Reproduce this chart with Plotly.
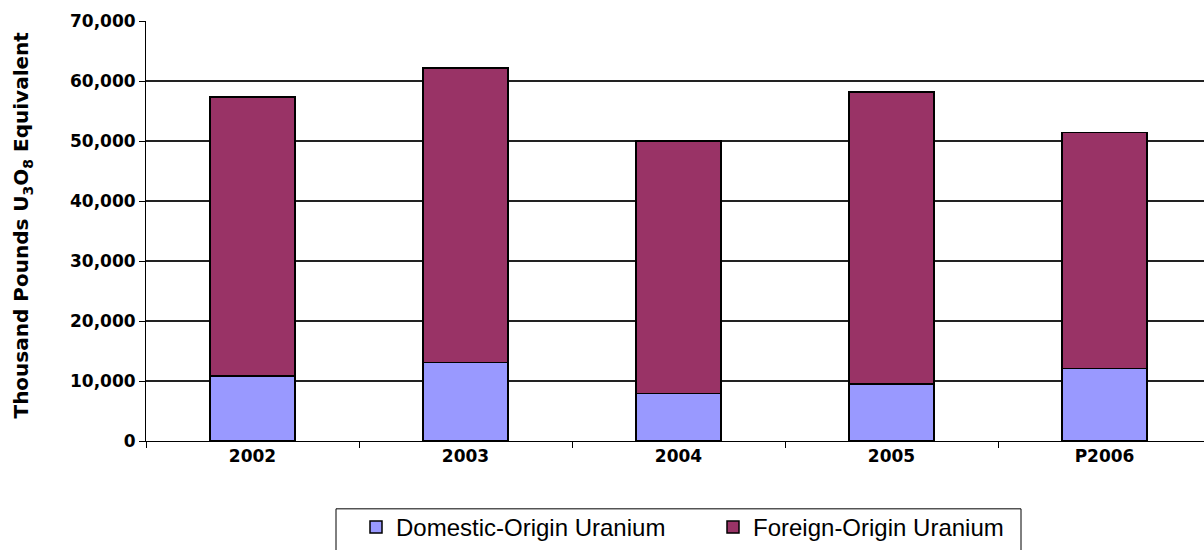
import plotly.graph_objects as go

categories = ["2002", "2003", "2004", "2005", "P2006"]
domestic = [10800, 13100, 7900, 9500, 12100]
foreign = [46500, 49100, 42100, 48700, 39300]
y_ticks = [0, 10000, 20000, 30000, 40000, 50000, 60000, 70000]
y_tick_labels = ["0", "10,000", "20,000", "30,000", "40,000", "50,000", "60,000", "70,000"]

BOLD = "DejaVu Sans, sans-serif"
REG = "Liberation Sans, Arial, sans-serif"

W, H = 1204, 550
L, T, B = 146, 21, 108
PW, PH = W - L, H - T - B


def px(x):
    return (x - L) / PW


def py(y):
    return (H - B - y) / PH


fig = go.Figure()
fig.add_trace(go.Bar(
    x=categories, y=domestic, name="Domestic-Origin Uranium",
    marker=dict(color="#9999FF", line=dict(color="#000000", width=1.5)),
    width=0.4,
))
fig.add_trace(go.Bar(
    x=categories, y=foreign, name="Foreign-Origin Uranium",
    marker=dict(color="#993366", line=dict(color="#000000", width=1.5)),
    width=0.4,
))

fig.update_layout(
    template="none",
    barmode="stack",
    width=W, height=H,
    margin=dict(l=L, r=0, t=T, b=B),
    paper_bgcolor="white", plot_bgcolor="white",
    font=dict(family=REG, size=15, color="black"),
    showlegend=True,
    legend=dict(
        orientation="h", x=px(356), xanchor="left", y=py(506), yanchor="top",
        borderwidth=0, font=dict(family=REG, size=24, color="black"),
        entrywidth=312, traceorder="normal", bgcolor="rgba(0,0,0,0)",
    ),
    shapes=[dict(
        type="rect", xref="paper", yref="paper",
        x0=px(336), x1=px(1021), y0=py(510), y1=py(565),
        line=dict(color="black", width=1), fillcolor="rgba(0,0,0,0)", layer="above",
    )],
    annotations=[dict(
        text="Thousand Pounds U<sub>3</sub>O<sub>8</sub> Equivalent",
        xref="paper", yref="paper", x=px(22), y=py(226), xanchor="center", yanchor="middle",
        textangle=-90, showarrow=False,
        font=dict(family=BOLD, size=20, weight="bold", color="black"),
    )],
)
fig.update_xaxes(
    type="category",
    range=[-0.5, 4.467], automargin=False,
    showline=True, linecolor="black", linewidth=1,
    ticks="outside", tickson="boundaries", ticklen=6, tickcolor="black",
    showgrid=False, zeroline=False,
    tickfont=dict(family=BOLD, size=17, weight="bold", color="black"),
)
fig.update_yaxes(
    range=[0, 70000], automargin=False,
    tickvals=y_ticks, ticktext=y_tick_labels,
    showline=True, linecolor="black", linewidth=1,
    ticks="outside", ticklen=6, tickcolor="black",
    showgrid=True, gridcolor="#222222", gridwidth=1.5, zeroline=False,
    tickfont=dict(family=BOLD, size=17, weight="bold", color="black"),
)

fig.write_html(
    "out.html",
    config={"displayModeBar": False},
    post_script="document.body.style.margin='0';document.body.style.overflow='hidden';",
)
